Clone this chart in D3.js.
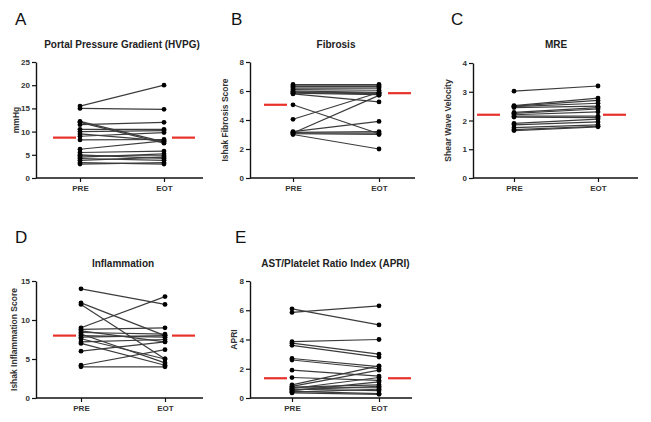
<!DOCTYPE html>
<html>
<head>
<meta charset="utf-8">
<script src="https://cdn.jsdelivr.net/npm/d3@7"></script>
<style>
    html, body { margin: 0; padding: 0; background: #fff; }
    svg { display: block; font-family: Arial, "Liberation Sans", sans-serif; }
</style>
</head>
<body>
<svg id="chart" width="651" height="422"></svg>
<script>
// 分组
var groups = ["PRE", "EOT"];

// A 门静脉压力梯度
var hvpgPre  = [15.5, 15.0, 12.2, 12.0, 11.5, 10.5, 10.0, 9.5, 9.0, 8.2, 6.2, 5.5, 5.0, 4.8, 4.5, 4.2, 3.8, 3.3, 3.0];
var hvpgEot  = [20.0, 14.8, 7.8, 7.5, 12.0, 10.5, 10.2, 8.0, 9.8, 8.3, 8.0, 5.8, 4.2, 4.8, 5.2, 3.8, 4.5, 3.0, 3.3];
var hvpgMean = [8.7, 8.7];
var hvpgTicks = [0, 5, 10, 15, 20, 25];

// B 纤维化
var fibPre  = [6.45, 6.35, 6.3, 6.2, 6.1, 6.0, 5.95, 5.9, 5.85, 5.8, 5.05, 4.05, 3.2, 3.15, 3.1, 3.05, 3.0, 3.1];
var fibEot  = [6.45, 6.35, 6.3, 6.2, 6.05, 5.9, 5.85, 5.8, 5.75, 5.25, 3.05, 5.9, 3.9, 3.2, 3.1, 3.0, 2.0, 5.7];
var fibMean = [5.05, 5.85];
var fibTicks = [0, 2, 4, 6, 8];

// C MRE
var mrePre  = [3.02, 2.52, 2.5, 2.48, 2.45, 2.28, 2.25, 2.2, 2.15, 2.12, 1.9, 1.85, 1.75, 1.68, 1.65];
var mreEot  = [3.2, 2.78, 2.7, 2.6, 2.5, 2.45, 2.4, 2.3, 2.15, 2.1, 2.05, 1.95, 1.85, 1.8, 1.78];
var mreMean = [2.2, 2.2];
var mreTicks = [0, 1, 2, 3, 4];

// D 炎症
var inflPre  = [14.0, 12.2, 12.0, 9.0, 8.8, 8.6, 8.4, 8.2, 8.0, 7.8, 7.6, 7.2, 7.0, 6.0, 4.2, 4.0];
var inflEot  = [12.0, 8.0, 5.0, 13.0, 9.0, 7.2, 8.2, 4.5, 7.8, 8.0, 5.0, 7.5, 4.2, 7.2, 6.2, 4.0];
var inflMean = [8.0, 8.0];
var inflTicks = [0, 5, 10, 15];

// E APRI
var apriPre  = [6.1, 5.85, 3.85, 3.75, 3.6, 2.7, 2.6, 1.9, 1.4, 0.9, 0.8, 0.75, 0.7, 0.65, 0.6, 0.55, 0.5, 0.45, 0.4, 0.35];
var apriEot  = [5.0, 6.3, 4.0, 3.0, 2.8, 2.15, 2.0, 1.5, 1.2, 2.2, 1.9, 0.9, 0.7, 1.4, 0.5, 0.8, 1.1, 0.3, 0.6, 0.25];
var apriMean = [1.35, 1.35];
var apriTicks = [0, 2, 4, 6, 8];

;(function (win) {

    "use strict";

    // 面板配置（仅布局）
    var _panels = [
        {letter: "A", title: "Portal Pressure Gradient (HVPG)", yLabel: "mmHg",
            pre: hvpgPre, eot: hvpgEot, mean: hvpgMean, ticks: hvpgTicks,
            axisX: 36, right: 203, top: 62, bottom: 178, xPre: 80, xEot: 164,
            gapL: 4, gapR: 8, letterX: 15, letterY: 25, labelX: 16, titleY: 48},
        {letter: "B", title: "Fibrosis", yLabel: "Ishak Fibrosis Score",
            pre: fibPre, eot: fibEot, mean: fibMean, ticks: fibTicks,
            axisX: 250, right: 415, top: 62, bottom: 178, xPre: 293, xEot: 379,
            gapL: 6, gapR: 9, letterX: 231, letterY: 25, labelX: 225, titleY: 48},
        {letter: "C", title: "MRE", yLabel: "Shear Wave Velocity",
            pre: mrePre, eot: mreEot, mean: mreMean, ticks: mreTicks,
            axisX: 473, right: 638, top: 63, bottom: 178, xPre: 514, xEot: 598,
            gapL: 14, gapR: 5, letterX: 451, letterY: 25, labelX: 448, titleY: 48},
        {letter: "D", title: "Inflammation", yLabel: "Ishak Inflammation Score",
            pre: inflPre, eot: inflEot, mean: inflMean, ticks: inflTicks,
            axisX: 36, right: 203, top: 281, bottom: 398, xPre: 81, xEot: 165,
            gapL: 5, gapR: 7, letterX: 15, letterY: 243, labelX: 14, titleY: 267},
        {letter: "E", title: "AST/Platelet Ratio Index (APRI)", yLabel: "APRI",
            pre: apriPre, eot: apriEot, mean: apriMean, ticks: apriTicks,
            axisX: 250, right: 412, top: 281, bottom: 398, xPre: 292, xEot: 379,
            gapL: 5, gapR: 9, letterX: 235, letterY: 243, labelX: 234, titleY: 267}
    ];

    var _style = {
        meanLen: 23,
        dotR: 2.4,
        lineColor: "#3c3c3c",
        meanColor: "#e8312b",
        textColor: "#333"
    };

    var _tool = {

        drawPanel: function (svg, p) {
            var g = svg.append("g").attr("class", "panel-" + p.letter);

            var y = d3.scaleLinear()
                .domain([0, d3.max(p.ticks)])
                .range([p.bottom, p.top]);
            var x = d3.scalePoint()
                .domain(groups)
                .range([p.xPre, p.xEot]);

            // 面板字母
            g.append("text")
                .attr("x", p.letterX)
                .attr("y", p.letterY)
                .attr("font-size", 17)
                .attr("fill", "#111")
                .text(p.letter);

            // 标题
            g.append("text")
                .attr("x", (p.xPre + p.xEot) / 2)
                .attr("y", p.titleY)
                .attr("text-anchor", "middle")
                .attr("font-size", 10)
                .attr("font-weight", "bold")
                .attr("fill", "#222")
                .text(p.title);

            // y轴标题
            g.append("text")
                .attr("transform", "translate(" + p.labelX + "," + ((p.top + p.bottom) / 2) + ") rotate(-90)")
                .attr("text-anchor", "middle")
                .attr("dominant-baseline", "central")
                .attr("font-size", 8.5)
                .attr("font-weight", "bold")
                .attr("fill", _style.textColor)
                .text(p.yLabel);

            // y轴
            var yAxis = g.append("g")
                .attr("transform", "translate(" + p.axisX + ",0)")
                .call(d3.axisLeft(y).tickValues(p.ticks).tickFormat(d3.format("d"))
                    .tickSize(4).tickSizeOuter(0).tickPadding(2));
            yAxis.select(".domain").attr("stroke", "#111").attr("stroke-width", 1.4);
            yAxis.selectAll(".tick line").attr("stroke", "#111").attr("stroke-width", 1.2);
            yAxis.selectAll(".tick text")
                .attr("font-size", 8).attr("font-weight", "bold")
                .attr("font-family", "Arial, 'Liberation Sans', sans-serif")
                .attr("fill", _style.textColor);

            // x轴
            var xAxis = g.append("g")
                .attr("transform", "translate(0," + p.bottom + ")")
                .call(d3.axisBottom(x).tickSize(4).tickPadding(3));
            xAxis.select(".domain").remove();
            xAxis.append("line")
                .attr("x1", p.axisX).attr("x2", p.right)
                .attr("stroke", "#111").attr("stroke-width", 1.4);
            xAxis.selectAll(".tick line").attr("stroke", "#111").attr("stroke-width", 1.2);
            xAxis.selectAll(".tick text")
                .attr("font-size", 8).attr("font-weight", "bold")
                .attr("font-family", "Arial, 'Liberation Sans', sans-serif")
                .attr("fill", _style.textColor);

            // 配对数据
            var pairs = p.pre.map(function (v, i) {
                return [v, p.eot[i]];
            });

            g.append("g").attr("class", "pairs")
                .selectAll("line")
                .data(pairs)
                .enter()
                .append("line")
                .attr("x1", x("PRE"))
                .attr("x2", x("EOT"))
                .attr("y1", function (d) { return y(d[0]); })
                .attr("y2", function (d) { return y(d[1]); })
                .attr("stroke", _style.lineColor)
                .attr("stroke-width", 1.2);

            var dots = g.append("g").attr("class", "dots");
            groups.forEach(function (grp, k) {
                dots.selectAll("circle.g" + k)
                    .data(pairs)
                    .enter()
                    .append("circle")
                    .attr("class", "g" + k)
                    .attr("cx", x(grp))
                    .attr("cy", function (d) { return y(d[k]); })
                    .attr("r", _style.dotR)
                    .attr("fill", "#000");
            });

            // 均值红线
            var meanG = g.append("g").attr("class", "mean");
            meanG.append("line")
                .attr("x1", x("PRE") - p.gapL - _style.meanLen)
                .attr("x2", x("PRE") - p.gapL)
                .attr("y1", y(p.mean[0]))
                .attr("y2", y(p.mean[0]));
            meanG.append("line")
                .attr("x1", x("EOT") + p.gapR)
                .attr("x2", x("EOT") + p.gapR + _style.meanLen)
                .attr("y1", y(p.mean[1]))
                .attr("y2", y(p.mean[1]));
            meanG.selectAll("line")
                .attr("stroke", _style.meanColor)
                .attr("stroke-width", 2.2);
        }
    };

    var svg = d3.select("#chart");
    svg.append("rect").attr("width", 651).attr("height", 422).attr("fill", "#fff");

    _panels.forEach(function (p) {
        _tool.drawPanel(svg, p);
    });

})(window);
</script>
</body>
</html>
